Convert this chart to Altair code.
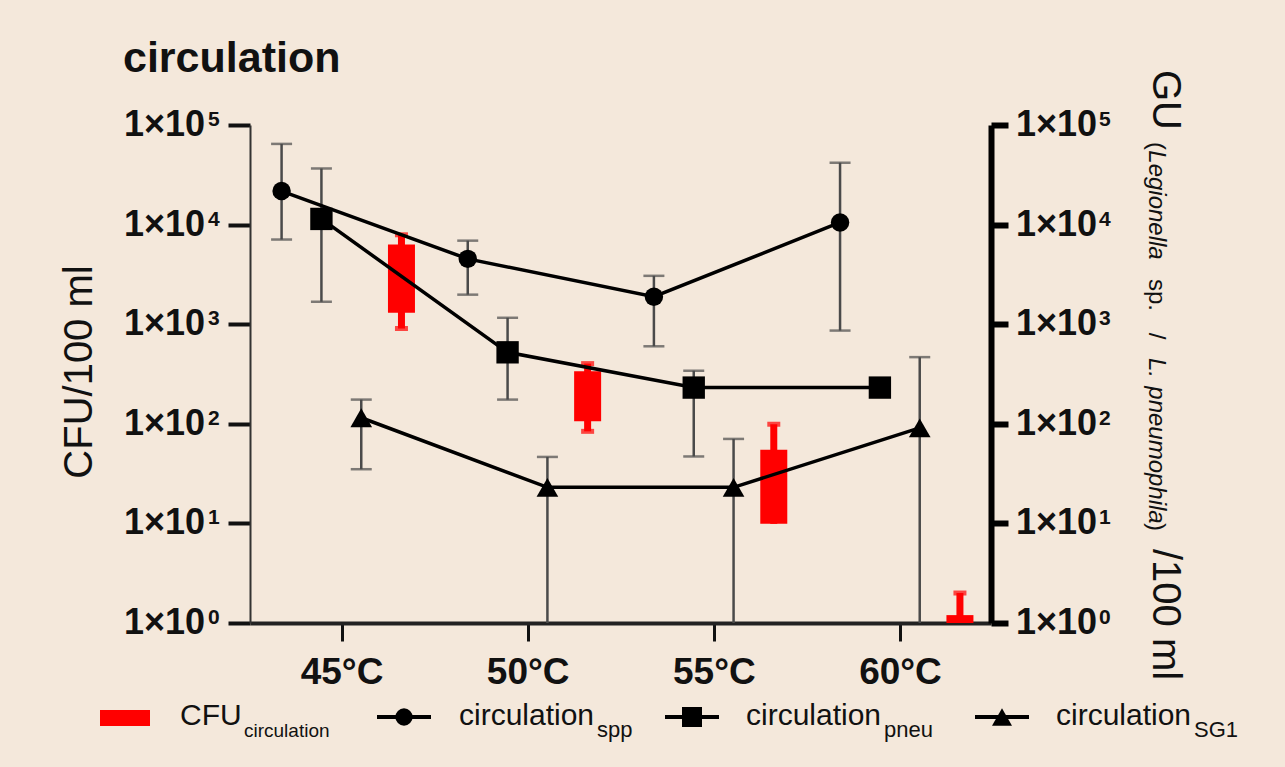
import altair as alt
import pandas as pd

# ---------------- data ----------------
temps = [45, 50, 55, 60]
temp_labels = ["45°C", "50°C", "55°C", "60°C"]

spp_mean = [21700, 4530, 1890, 10500]
spp_lo = [7080, 1980, 600, 863]
spp_hi = [64600, 6900, 3060, 41800]

pneu_mean = [11400, 522, 231, 231]
pneu_lo = [1680, 175, 47, None]
pneu_hi = [36600, 1160, 341, None]

sg1_mean = [115, 23, 23, 91]
sg1_lo = [35, 1, 1, 1]
sg1_hi = [175, 46.5, 70.5, 467]

cfu_box_lo = [1300, 106, 9.9, 1.0]
cfu_box_hi = [6300, 337, 55, 1.2]
cfu_wh_lo = [905, 84, None, None]
cfu_wh_hi = [7900, 402, 99, 2.0]

y_ticks = [1, 10, 100, 1000, 10000, 100000]
y_tick_base = ["1×10"] * 6
y_tick_exp = ["0", "1", "2", "3", "4", "5"]

title_text = ["circulation"]
left_title = ["CFU/100 ml"]
right_title_big = ["GU", "/100 ml"]
right_title_small = ["(", "Legionella", "sp.", "/", "L.", "pneumophila", ")"]
legend_main = ["CFU", "circulation", "circulation", "circulation"]
legend_sub = ["circulation", "spp", "pneu", "SG1"]

# ---------------- layout constants ----------------
FONT = "Liberation Sans"
BG = "#F4E8DB"
X0, Y0 = 250, 125          # plot origin in the page
W, H = 741, 498
OFFS = {"spp": -1.61, "pneu": -0.54, "sg1": 0.53, "cfu": 1.61}

rows = []
for name, m, lo, hi in [("spp", spp_mean, spp_lo, spp_hi),
                        ("pneu", pneu_mean, pneu_lo, pneu_hi),
                        ("sg1", sg1_mean, sg1_lo, sg1_hi)]:
    for t, a, b, c in zip(temps, m, lo, hi):
        rows.append({"series": name, "x": t + OFFS[name], "mean": a, "lo": b, "hi": c})
df = pd.DataFrame(rows)
df_err = df.dropna(subset=["lo"])
caps = []
for _, r in df_err.iterrows():
    caps.append({"x": r["x"], "v": r["hi"]})
    if r["lo"] > 1:
        caps.append({"x": r["x"], "v": r["lo"]})
df_caps = pd.DataFrame(caps)

cfu = pd.DataFrame({"x": [t + OFFS["cfu"] for t in temps], "blo": cfu_box_lo, "bhi": cfu_box_hi,
                    "wlo": cfu_wh_lo, "whi": cfu_wh_hi})
cfu["stem_lo"] = cfu["wlo"].fillna(cfu["blo"])
cfu_caps = pd.DataFrame([{"x": r["x"], "v": r["whi"]} for _, r in cfu.iterrows()] +
                        [{"x": r["x"], "v": r["wlo"]} for _, r in cfu.iterrows() if pd.notna(r["wlo"])])

df_yt = pd.DataFrame({"v": y_ticks, "base": y_tick_base, "exp": y_tick_exp})

xscale = alt.Scale(domain=[42.676, 62.31], nice=False, zero=False)
yscale = alt.Scale(type="log", domain=[1, 100000], nice=False)
xaxis = alt.Axis(values=temps, labelExpr="datum.value + '°C'", title=None, grid=False,
                 domainColor="#222", domainWidth=4, tickColor="#111", tickWidth=3, tickSize=18,
                 labelFont=FONT, labelFontSize=37, labelFontWeight="bold", labelColor="#111",
                 labelPadding=13)
yaxis = alt.Axis(values=y_ticks, labels=False, title=None, grid=False, domainColor="#333",
                 domainWidth=2, tickColor="#111", tickWidth=4, tickSize=22)
yaxis_r = alt.Axis(values=y_ticks, labels=False, title=None, grid=False, orient="right",
                   domainColor="#000", domainWidth=6, tickColor="#000", tickWidth=6, tickSize=17)


def X(f="x"):
    return alt.X(f"{f}:Q", scale=xscale, axis=xaxis)


def Y(f):
    return alt.Y(f"{f}:Q", scale=yscale, axis=yaxis)


RED = "#FF0000"
ERR = "#4a4a4a"

cfu_stem = alt.Chart(cfu).mark_rule(color=RED, strokeWidth=7).encode(x=X(), y=Y("stem_lo"), y2="whi:Q")
cfu_box = alt.Chart(cfu).mark_bar(color=RED, size=27).encode(x=X(), y=Y("blo"), y2="bhi:Q")
cfu_cap = alt.Chart(cfu_caps).mark_tick(color=RED, orient="horizontal", size=13, thickness=5).encode(
    x=X(), y=Y("v"))

err_rule = alt.Chart(df_err).mark_rule(color=ERR, strokeWidth=2.5).encode(x=X(), y=Y("lo"), y2="hi:Q")
err_cap = alt.Chart(df_caps).mark_tick(color=ERR, orient="horizontal", size=21, thickness=2.5).encode(
    x=X(), y=Y("v"))

lines = alt.Chart(df).mark_line(color="black", strokeWidth=3.5).encode(
    x=X(), y=Y("mean"), detail="series:N", order="x:Q")
pt_c = alt.Chart(df[df.series == "spp"]).mark_point(shape="circle", filled=True, color="black",
                                                      size=340, opacity=1).encode(x=X(), y=Y("mean"))
pt_s = alt.Chart(df[df.series == "pneu"]).mark_point(shape="square", filled=True, color="black",
                                                       size=500, opacity=1).encode(x=X(), y=Y("mean"))
pt_t = alt.Chart(df[df.series == "sg1"]).mark_point(shape="triangle-up", filled=True, color="black",
                                                      size=470, opacity=1).encode(x=X(), y=Y("mean"))

SUP = 21
ylab_base = alt.Chart(df_yt).mark_text(font=FONT, fontSize=36, fontWeight="bold", align="right",
                                       baseline="alphabetic", dy=11, color="#111").encode(
    x=alt.value(205 - X0), y=Y("v"), text="base:N")
ylab_sup = alt.Chart(df_yt).mark_text(font=FONT, fontSize=SUP, fontWeight="bold", align="left",
                                      baseline="alphabetic", dy=1, color="#111").encode(
    x=alt.value(208 - X0), y=Y("v"), text="exp:N")

# ---- text annotations ----
def txt(t, x, y, size, weight="normal", style="normal", angle=0, align="left", baseline="alphabetic"):
    kw = dict(font=FONT, fontSize=size, fontWeight=weight, fontStyle=style, align=align,
              baseline=baseline, color="#111")
    if angle:
        kw["angle"] = angle
    return alt.Chart(pd.DataFrame({"t": [t]})).mark_text(**kw).encode(
        x=alt.value(x - X0), y=alt.value(y - Y0), text="t:N")


annos = [
    txt(title_text[0], 123, 72, 43, weight="bold"),
    txt(left_title[0], 92, 372, 40, angle=270, align="center"),
    txt(right_title_big[0], 1153, 70, 40, angle=90),
    txt(right_title_big[1], 1153, 549, 40, angle=90),
]
small_pos = [(146, "center", "normal"), (205, "center", "italic"), (295, "center", "normal"),
             (336, "center", "normal"), (368, "center", "italic"), (455, "center", "italic"),
             (527, "center", "normal")]
for t, (yy, al, st) in zip(right_title_small, small_pos):
    annos.append(txt(t, 1149, yy, 24, style=st, angle=90, align=al))

# ---- legend ----
LEG_Y = 717
LEG_BASE = 725
SUB_BASE = 737
one = pd.DataFrame({"a": [0]})
legend = [
    alt.Chart(one).mark_rect(color=RED).encode(x=alt.value(100 - X0), x2=alt.value(150 - X0),
                                                 y=alt.value(710 - Y0), y2=alt.value(726 - Y0))
]
main_x = [180, 459, 746, 1056]
sub_x = [244, 597, 884, 1194]
sub_size = [19, 22, 22, 22]
for t, s, mx, sx, ss in zip(legend_main, legend_sub, main_x, sub_x, sub_size):
    legend.append(txt(t, mx, LEG_BASE, 30))
    legend.append(txt(s, sx, SUB_BASE, ss))
for cx, shape, size in [(404, "circle", 300), (692, "square", 400), (1002, "triangle-up", 400)]:
    legend.append(alt.Chart(one).mark_rule(color="black", strokeWidth=4).encode(
        x=alt.value(cx - 27 - X0), x2=alt.value(cx + 27 - X0), y=alt.value(LEG_Y - Y0)))
    legend.append(alt.Chart(one).mark_point(shape=shape, filled=True, color="black", size=size,
                                            opacity=1).encode(x=alt.value(cx - X0), y=alt.value(LEG_Y - Y0)))

left = alt.layer(cfu_stem, cfu_box, cfu_cap, err_rule, err_cap, lines, pt_c, pt_s, pt_t,
                 ylab_base, ylab_sup, *annos, *legend)

r_base = alt.Chart(df_yt).mark_text(font=FONT, fontSize=36, fontWeight="bold", align="right",
                                    baseline="alphabetic", dy=11, color="#111").encode(
    x=alt.value(1097 - X0), y=alt.Y("v:Q", scale=yscale, axis=yaxis_r), text="base:N")
r_sup = alt.Chart(df_yt).mark_text(font=FONT, fontSize=SUP, fontWeight="bold", align="left",
                                   baseline="alphabetic", dy=1, color="#111").encode(
    x=alt.value(1099 - X0), y=alt.Y("v:Q", scale=yscale, axis=yaxis_r), text="exp:N")
right = alt.layer(r_base, r_sup)

chart = alt.layer(left, right).resolve_scale(y="independent").properties(
    width=W, height=H,
    padding={"left": X0, "top": Y0, "right": 1285 - X0 - W, "bottom": 767 - Y0 - H},
    autosize=alt.AutoSizeParams(type="none"),
).configure(background=BG).configure_view(stroke=None)

chart.save("out.html", embed_options={"renderer": "svg", "actions": False})
